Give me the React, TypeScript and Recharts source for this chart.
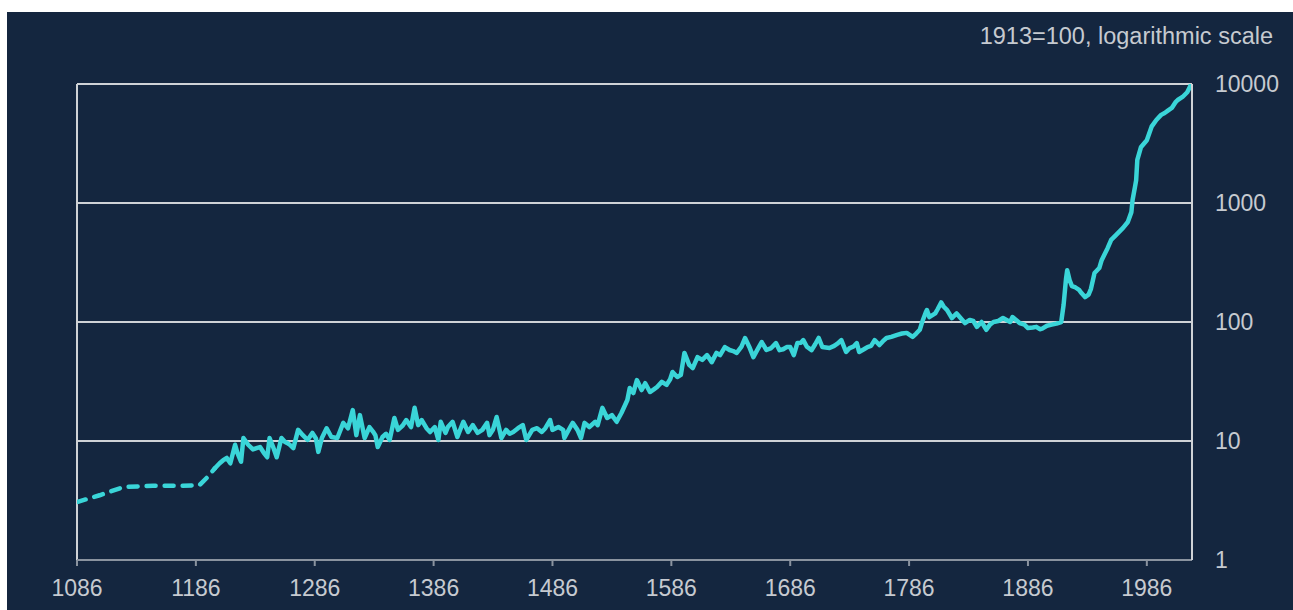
import React from "react";
import {
  LineChart,
  Line,
  XAxis,
  YAxis,
  CartesianGrid,
  ReferenceLine,
} from "recharts";

// early estimates, drawn dashed
const estYears = [1086, 1105, 1125, 1150, 1175, 1189, 1196, 1202];
const estValues = [3.07, 3.5, 4.1, 4.2, 4.2, 4.25, 5.0, 5.9];

// annual price index, 1913=100
const years = [
  1202, 1206, 1209, 1212, 1215, 1219, 1221, 1224, 1226, 1230, 1234, 1237, 1240, 1243, 1246, 1248,
  1251, 1254, 1258, 1261, 1263, 1265, 1268, 1272, 1276, 1280, 1284, 1287, 1289, 1292, 1296, 1300,
  1305, 1310, 1314, 1318, 1321, 1324, 1328, 1332, 1335, 1337, 1339, 1343, 1346, 1349, 1353, 1356,
  1360, 1363, 1367, 1370, 1373, 1376, 1380, 1383, 1387, 1390, 1392, 1396, 1398, 1402, 1406, 1411,
  1415, 1419, 1423, 1427, 1431, 1433, 1436, 1439, 1443, 1447, 1450, 1453, 1457, 1461, 1464, 1469,
  1473, 1477, 1480, 1484, 1486, 1491, 1495, 1496, 1501, 1503, 1507, 1510, 1513, 1517, 1522, 1524,
  1528, 1532, 1536, 1540, 1544, 1549, 1551, 1554, 1557, 1561, 1564, 1568, 1571, 1574, 1578, 1582,
  1585, 1587, 1591, 1594, 1597, 1601, 1604, 1608, 1612, 1616, 1620, 1624, 1627, 1631, 1635, 1638,
  1641, 1645, 1648, 1652, 1655, 1659, 1662, 1666, 1670, 1674, 1677, 1680, 1683, 1686, 1689, 1692,
  1695, 1697, 1700, 1704, 1707, 1710, 1713, 1716, 1719, 1723, 1726, 1729, 1733, 1736, 1739, 1742,
  1744, 1748, 1751, 1754, 1757, 1761, 1764, 1767, 1771, 1776, 1780, 1784, 1789, 1792, 1795, 1797,
  1800, 1801, 1803, 1808, 1810, 1813, 1815, 1818, 1822, 1826, 1830, 1833, 1837, 1840, 1843, 1847,
  1851, 1854, 1857, 1861, 1865, 1871, 1873, 1876, 1879, 1883, 1886, 1890, 1893, 1896, 1898, 1902,
  1906, 1910, 1914, 1916, 1918, 1919, 1921, 1923, 1926, 1929, 1931, 1934, 1937, 1939, 1942, 1946,
  1948, 1953, 1956, 1960, 1966, 1970, 1973, 1974, 1976, 1977, 1978, 1981, 1986, 1990, 1994, 1998,
  2001, 2004, 2007, 2010, 2012, 2016, 2020, 2023,
];
const values = [
  5.9, 6.5, 6.9, 7.2, 6.5, 9.3, 7.9, 6.7, 10.6, 9.3, 8.5, 8.7, 8.9, 8.0, 7.3, 10.6,
  8.9, 7.3, 10.6, 9.8, 9.6, 9.3, 8.7, 12.4, 11.2, 10.2, 11.7, 10.5, 8.1, 10.6, 12.8, 10.8,
  10.6, 14.2, 12.8, 18.2, 11.2, 16.5, 10.6, 13.1, 12.0, 11.2, 8.9, 10.8, 11.5, 10.2, 15.6, 12.4,
  13.5, 15.0, 13.1, 19.0, 13.6, 15.0, 12.8, 11.9, 13.1, 10.2, 14.5, 11.7, 13.1, 14.5, 10.8, 14.5,
  11.9, 13.6, 11.7, 12.4, 14.2, 11.2, 12.5, 15.9, 10.6, 12.4, 11.5, 11.9, 12.8, 13.6, 10.2, 12.4,
  12.8, 11.9, 12.8, 15.0, 12.4, 13.1, 12.4, 10.6, 13.1, 14.2, 12.4, 10.6, 14.2, 13.1, 14.5, 13.6,
  19.0, 15.6, 16.5, 14.5, 17.2, 22.1, 27.9, 25.3, 32.5, 26.8, 30.6, 25.8, 27.0, 28.4, 31.4, 29.6,
  33, 38, 34.5, 36, 55, 43.6, 41, 50.7, 48, 52.7, 46, 55, 52.7, 61.6, 58.2, 57,
  55, 62, 73.4, 60.4, 50.7, 60, 67.8, 58.2, 60.4, 66.5, 58, 59, 61.6, 61.6, 52.7, 66.5,
  67, 70.5, 62, 58, 65, 73.4, 61.6, 61, 60.4, 63, 66, 70.5, 56, 60.4, 62, 66.5,
  56, 59, 61.6, 63, 70.5, 64, 69, 73.4, 75, 78, 80, 81, 75, 80, 86, 100,
  120, 126, 110, 118, 128, 146, 135, 126, 108, 118, 106, 98, 104, 102, 91, 100,
  86, 95, 100, 102, 108, 100, 110, 104, 98, 95, 89, 90, 91, 87, 88, 93,
  95, 97, 100, 140, 230, 272, 225, 200, 195, 186, 175, 162, 170, 190, 258, 284,
  331, 417, 490, 537, 617, 692, 838, 1060, 1360, 1550, 2300, 2940, 3370, 4380, 4990, 5500,
  5710, 6000, 6290, 7000, 7340, 7780, 8530, 9800,
];

const xTicks = [1086, 1186, 1286, 1386, 1486, 1586, 1686, 1786, 1886, 1986];
const yTicks = [1, 10, 100, 1000, 10000];

const estData = estYears.map((year, i) => ({ year, v: estValues[i] }));
const mainData = years.map((year, i) => ({ year, v: values[i] }));

const BG = "#14263f";
const LINE = "#3ad5d8";
const GRID = "#cfd2d6";
const TEXT = "#c6cad0";
const FONT = "'Liberation Sans', Arial, sans-serif";

export default function App() {
  return (
    <div
      style={{
        position: "absolute",
        left: 7,
        top: 12,
        width: 1286,
        height: 598,
        background: BG,
        fontFamily: FONT,
      }}
    >
      <div
        style={{
          position: "absolute",
          right: 20,
          top: 10,
          lineHeight: "28px",
          fontSize: 23.5,
          color: TEXT,
        }}
      >
        1913=100, logarithmic scale
      </div>
      <LineChart
        width={1286}
        height={598}
        margin={{ top: 72, left: 70, right: 21, bottom: 10 }}
      >
        <CartesianGrid stroke={GRID} strokeWidth={2} vertical={false} />
        <XAxis
          dataKey="year"
          type="number"
          domain={[1086, 2024]}
          ticks={xTicks}
          allowDataOverflow
          height={40}
          stroke="#8a939f"
          strokeWidth={2}
          tickSize={6}
          tickMargin={14}
          tick={{ fill: TEXT, fontSize: 23, fontFamily: FONT }}
        />
        <YAxis
          orientation="right"
          scale="log"
          domain={[1, 10000]}
          ticks={yTicks}
          allowDataOverflow
          width={80}
          axisLine={{ stroke: GRID, strokeWidth: 2 }}
          tickLine={false}
          tickSize={6}
          tickMargin={17}
          tick={{ fill: TEXT, fontSize: 23, fontFamily: FONT, textAnchor: "start" }}
        />
        <ReferenceLine x={1086} stroke={GRID} strokeWidth={2} />
        <Line
          data={estData}
          dataKey="v"
          type="linear"
          stroke={LINE}
          strokeWidth={4.5}
          strokeDasharray="9 9"
          strokeLinecap="round"
          dot={false}
          isAnimationActive={false}
        />
        <Line
          data={mainData}
          dataKey="v"
          type="linear"
          stroke={LINE}
          strokeWidth={4.5}
          strokeLinejoin="round"
          strokeLinecap="round"
          dot={false}
          isAnimationActive={false}
        />
      </LineChart>
    </div>
  );
}
